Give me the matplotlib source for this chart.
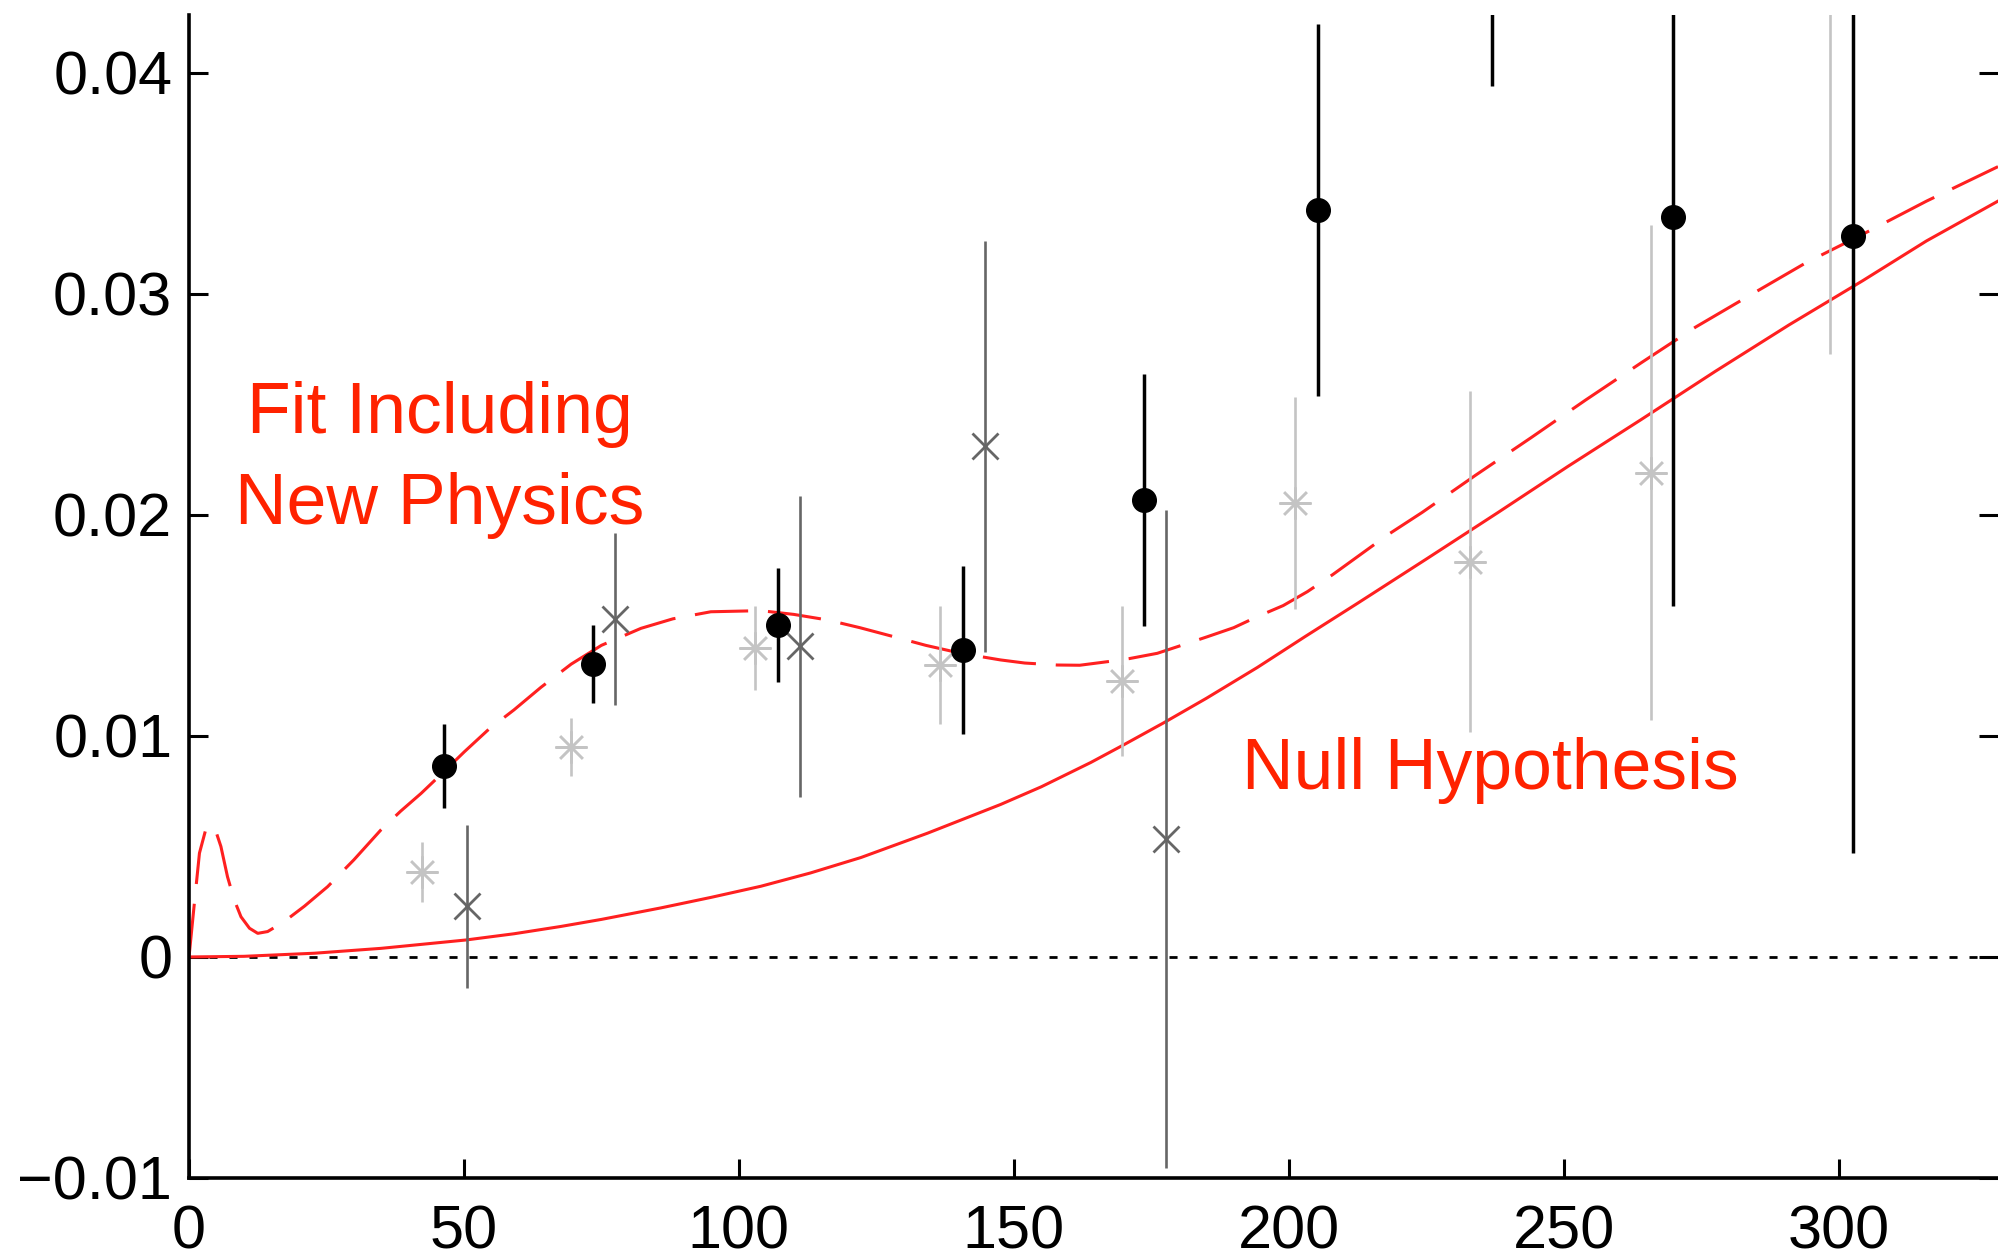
import numpy as np
import matplotlib
matplotlib.use("Agg")
import matplotlib.pyplot as plt

# === DATA ===
# black filled circles
black_x = [46.4, 73.5, 107.1, 140.7, 173.6, 205.3, 237.0, 269.9, 302.6]
black_y = [0.00865, 0.01325, 0.01501, 0.01387, 0.02068, 0.0338, 0.052, 0.0335, 0.0326]
black_err = [0.0019, 0.00176, 0.00257, 0.0038, 0.0057, 0.0084, 0.0126, 0.0176, 0.0279]

# dark grey crosses
dark_x = [50.5, 77.5, 111.1, 144.7, 177.6]
dark_y = [0.00229, 0.0153, 0.01406, 0.0231, 0.00533]
dark_err = [0.0037, 0.0039, 0.0068, 0.0093, 0.0149]

# light grey asterisks
light_x = [42.4, 69.4, 103.0, 136.5, 169.6, 201.1, 232.9, 265.9, 298.5]
light_y = [0.00385, 0.0095, 0.01397, 0.0132, 0.0125, 0.02054, 0.01789, 0.0219, 0.046]
light_err = [0.00134, 0.0013, 0.0019, 0.00266, 0.0034, 0.0048, 0.0077, 0.0112, 0.0187]

# fit including new physics (dashed)
fit_x = [0, 1.0, 1.9, 3.1, 4.6, 5.8, 7.0, 8.2, 9.45, 11, 12.5, 14.3, 17.3, 21,
         25.2, 30, 34.9, 38.5, 42.2, 46, 50.1, 54.5, 59.1, 64, 69.5, 75, 82.2,
         88, 94.9, 104, 110, 116.1, 122, 128.2, 134, 140.4, 147.6, 152, 157.9,
         162, 167, 171, 176.1, 180.5, 185.2, 190, 194.3, 199, 203.4, 208, 212.5,
         218, 224.3, 234, 244.1, 254, 264.2, 274, 284.3, 294, 304.4, 316, 329]
fit_y = [0, 0.0025, 0.0047, 0.00582, 0.0059, 0.0050, 0.00363, 0.0026, 0.00182,
         0.0013, 0.00107, 0.00115, 0.0016, 0.0023, 0.00318, 0.0044, 0.00575,
         0.0066, 0.0074, 0.0083, 0.00929, 0.0103, 0.01118, 0.0122, 0.01325,
         0.0141, 0.01487, 0.0153, 0.01562, 0.01567, 0.0155, 0.01525, 0.0149,
         0.01449, 0.0141, 0.01374, 0.01344, 0.0133, 0.01321, 0.0132, 0.01336,
         0.0135, 0.01374, 0.0141, 0.01449, 0.0149, 0.0154, 0.0159, 0.01653,
         0.0173, 0.01811, 0.0191, 0.02012, 0.0218, 0.0235, 0.0252, 0.0269,
         0.0285, 0.0300, 0.0314, 0.0327, 0.0342, 0.03576]

# null hypothesis (solid)
null_x = [0, 10, 22.8, 34.9, 50.4, 59.1, 67.6, 75, 85.8, 95, 104, 113, 122.2,
          134.3, 147.6, 155, 164, 170, 177.3, 185, 194.3, 203, 212.5, 225, 238,
          250.8, 264, 277.6, 291, 304.4, 316, 329]
null_y = [0, 0.00003, 0.00017, 0.00039, 0.00077, 0.00105, 0.00138, 0.0017,
          0.00222, 0.0027, 0.0032, 0.0038, 0.0045, 0.0056, 0.0069, 0.0077,
          0.0088, 0.0096, 0.0106, 0.0117, 0.0131, 0.0145, 0.0160, 0.0180,
          0.0201, 0.0222, 0.0243, 0.0265, 0.0286, 0.0306, 0.0324, 0.0342]

x_ticks = [0, 50, 100, 150, 200, 250, 300]
y_ticks = [-0.01, 0, 0.01, 0.02, 0.03, 0.04]
y_tick_labels = ["\u22120.01", "0", "0.01", "0.02", "0.03", "0.04"]

# === PLOT ===
plt.rcParams["font.family"] = ["Liberation Sans", "DejaVu Sans"]
RED_LINE = "#ff2020"
RED_TEXT = "#ff2200"

fig = plt.figure(figsize=(19.98, 12.58), dpi=100)
ax = fig.add_axes([0.0946, 0.0636, 0.9054, 0.9241])

ax.plot([0, 329], [0, 0], color="black", lw=2.0, linestyle=(0, (2.9, 4.3)), zorder=1)

ax.plot(null_x, null_y, color=RED_LINE, lw=2.2, zorder=2)
ax.plot(fit_x, fit_y, color=RED_LINE, lw=2.2, dashes=(17.5, 6.5), zorder=2)

ax.errorbar(light_x, light_y, yerr=light_err, fmt="none", ecolor="#c4c4c4",
            elinewidth=1.9, capsize=0, zorder=3)
ax.plot(light_x, light_y, linestyle="none", marker=(8, 2, 0), ms=23,
        mec="#c4c4c4", mew=1.8, zorder=3)

ax.errorbar(dark_x, dark_y, yerr=dark_err, fmt="none", ecolor="#666666",
            elinewidth=1.9, capsize=0, zorder=4)
ax.plot(dark_x, dark_y, linestyle="none", marker="x", ms=19,
        mec="#666666", mew=2.0, zorder=4)

ax.errorbar(black_x, black_y, yerr=black_err, fmt="o", color="black", ms=17,
            elinewidth=2.5, capsize=0, zorder=5)

ax.text(45.6, 0.02371, "Fit Including", color=RED_TEXT, fontsize=51.5,
        ha="center", va="baseline")
ax.text(45.6, 0.01957, "New Physics", color=RED_TEXT, fontsize=51.5,
        ha="center", va="baseline")
ax.text(236.7, 0.00761, "Null Hypothesis", color=RED_TEXT, fontsize=51.5,
        ha="center", va="baseline")

ax.set_xlim(0, 329)
ax.set_ylim(-0.01, 0.0426)
ax.set_xticks(x_ticks)
ax.set_xticklabels([str(t) for t in x_ticks])
ax.set_yticks(y_ticks)
ax.set_yticklabels(y_tick_labels)

for side in ["top", "right"]:
    ax.spines[side].set_visible(False)
for side in ["left", "bottom"]:
    ax.spines[side].set_linewidth(2.6)

ax.tick_params(axis="both", direction="in", length=14, width=2.2,
               labelsize=44, pad=14)
ax.tick_params(axis="y", right=True, pad=12)
ax.tick_params(axis="x", pad=19)

fig.savefig("out.png", dpi=100)
